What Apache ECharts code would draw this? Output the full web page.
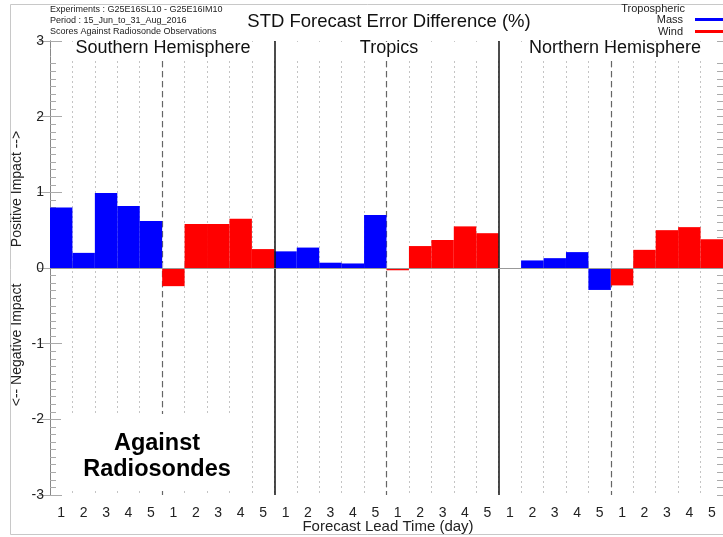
<!DOCTYPE html>
<html>
<head>
<meta charset="utf-8">
<script src="https://cdn.jsdelivr.net/npm/echarts@6/dist/echarts.min.js"></script>
<style>
html,body{margin:0;padding:0;background:#fff}
#chart{width:723px;height:537px}
</style>
</head>
<body>
<div id="chart"></div>
<script>
// Forecast lead time labels (days) and region panels
const regions = ['Southern Hemisphere', 'Tropics', 'Northern Hemisphere'];
const leadDays = ['1', '2', '3', '4', '5'];

// STD forecast error difference (%), tropospheric mass and wind
const massSH = [0.80, 0.20, 0.99, 0.82, 0.62];
const windSH = [-0.24, 0.58, 0.58, 0.65, 0.25];
const massTR = [0.22, 0.27, 0.07, 0.06, 0.70];
const windTR = [-0.03, 0.29, 0.37, 0.55, 0.46];
const massNH = [0.00, 0.10, 0.13, 0.21, -0.29];
const windNH = [-0.23, 0.24, 0.50, 0.54, 0.38];

const yMin = -3, yMax = 3;

// ---- layout ----
const W = 723, H = 537;
const GL = 50, GT = 41, GR = -5, GB = 42;
const plotW = W - GL - GR;
const panelW = plotW / 3;
const FONT = '"Liberation Sans", Arial, Helvetica, sans-serif';

// ---- build the 30-slot category axis and the two bar series ----
const categories = [];
const massData = [];
const windData = [];
const massByRegion = [massSH, massTR, massNH];
const windByRegion = [windSH, windTR, windNH];
regions.forEach((r, ri) => {
  leadDays.forEach((d, i) => {
    categories.push(ri + 'm' + d);
    massData.push(massByRegion[ri][i]);
    windData.push('-');
  });
  leadDays.forEach((d, i) => {
    categories.push(ri + 'w' + d);
    massData.push('-');
    windData.push(windByRegion[ri][i]);
  });
});
const nSlots = categories.length;

const clear = 'rgba(0,0,0,0)';

// panel titles, header text, annotations
const graphics = [
  { type: 'rect', z: 0, silent: true,
    shape: { x: 10.5, y: 4.5, width: 740, height: 530 },
    style: { fill: null, stroke: '#c8c8c8', lineWidth: 1 } },
  // blank band under the panel titles
  { type: 'rect', z: 1, silent: true,
    shape: { x: GL + 1, y: GT + 1, width: plotW - 2, height: 18 },
    style: { fill: '#fff' } },
  // blank box behind the annotation
  { type: 'rect', z: 1, silent: true,
    shape: { x: 61, y: 414, width: 190, height: 76 },
    style: { fill: '#fff' } },
  { type: 'text', z: 10, left: GL, top: 5,
    style: { text: 'Experiments : G25E16SL10 - G25E16IM10', font: '9px ' + FONT, fill: '#222' } },
  { type: 'text', z: 10, left: GL, top: 16,
    style: { text: 'Period : 15_Jun_to_31_Aug_2016', font: '9px ' + FONT, fill: '#222' } },
  { type: 'text', z: 10, left: GL, top: 27,
    style: { text: 'Scores Against Radiosonde Observations', font: '9px ' + FONT, fill: '#222' } },
  { type: 'text', z: 10, x: GL + plotW / 2, y: 22,
    style: { text: 'STD Forecast Error Difference (%)', font: '18.5px ' + FONT, fill: '#111',
             textAlign: 'center', textVerticalAlign: 'middle' } },
  { type: 'text', z: 10, x: 685, y: 9,
    style: { text: 'Tropospheric', font: '11px ' + FONT, fill: '#222',
             textAlign: 'right', textVerticalAlign: 'middle' } },
  { type: 'text', z: 10, x: 17, y: 189, rotation: Math.PI / 2,
    style: { text: 'Positive Impact -->', font: '14px ' + FONT, fill: '#222',
             textAlign: 'center', textVerticalAlign: 'middle' } },
  { type: 'text', z: 10, x: 17, y: 345, rotation: Math.PI / 2,
    style: { text: '<-- Negative Impact', font: '14px ' + FONT, fill: '#222',
             textAlign: 'center', textVerticalAlign: 'middle' } },
  { type: 'text', z: 10, x: 157, y: 444,
    style: { text: 'Against', font: 'bold 23.5px ' + FONT, fill: '#000',
             textAlign: 'center', textVerticalAlign: 'middle' } },
  { type: 'text', z: 10, x: 157, y: 470,
    style: { text: 'Radiosondes', font: 'bold 23.5px ' + FONT, fill: '#000',
             textAlign: 'center', textVerticalAlign: 'middle' } },
  { type: 'text', z: 10, x: 388, y: 527,
    style: { text: 'Forecast Lead Time (day)', font: '15px ' + FONT, fill: '#222',
             textAlign: 'center', textVerticalAlign: 'middle' } }
];
regions.forEach((r, ri) => {
  graphics.push({ type: 'text', z: 10, x: GL + panelW * (ri + 0.5), y: 48,
    style: { text: r, font: '18px ' + FONT, fill: '#111',
             textAlign: 'center', textVerticalAlign: 'middle' } });
});

// major ticks (with labels on the left) and fine 0.1 ticks, on both sides
function yAxisDef(side, step, tickLen, withLine, withLabels) {
  return {
    type: 'value', min: yMin, max: yMax, interval: step, position: side,
    axisLine: { show: withLine, lineStyle: { color: '#888', width: 1 } },
    axisTick: { show: true, inside: true, length: tickLen, lineStyle: { color: '#aaa' } },
    axisLabel: withLabels ? { show: true, fontSize: 14, color: '#222', margin: 6 } : { show: false },
    splitLine: { show: false }
  };
}

const chart = echarts.init(document.getElementById('chart'), null, { renderer: 'canvas' });
chart.setOption({
  animation: false,
  backgroundColor: '#fff',
  textStyle: { fontFamily: FONT },
  grid: { left: GL, right: GR, top: GT, bottom: GB, containLabel: false },
  legend: {
    data: ['Mass', 'Wind'], orient: 'vertical', right: GR + 3, top: 14,
    align: 'right', icon: 'rect', itemWidth: 30, itemHeight: 3, itemGap: 1,
    padding: 0, selectedMode: false,
    textStyle: { fontSize: 11, color: '#222', lineHeight: 11, padding: [0, 7, 0, 0] }
  },
  xAxis: [
    {
      type: 'category', data: categories, position: 'bottom',
      axisLine: { show: true, lineStyle: { color: '#aaa' } },
      axisTick: { show: true, inside: true, length: 5, interval: 0, lineStyle: { color: '#bbb' } },
      axisLabel: { interval: 0, fontSize: 14, color: '#222', margin: 11,
                   formatter: v => v.slice(-1) },
      splitLine: { show: true, interval: 0, lineStyle: { color: '#c4c4c4', type: [2, 3], width: 1 } },
      z: 0
    },
    {
      // dashed separators between mass and wind within each panel
      type: 'value', min: 0, max: nSlots, interval: 5, show: true,
      axisLine: { show: false }, axisTick: { show: false }, axisLabel: { show: false },
      splitLine: { show: true, lineStyle: {
        color: [clear, '#666', clear, '#666', clear, '#666', clear], type: [6, 4], width: 1.2 } },
      z: 0
    },
    {
      // solid panel separators
      type: 'value', min: 0, max: nSlots, interval: 10, show: true,
      axisLine: { show: false }, axisTick: { show: false }, axisLabel: { show: false },
      splitLine: { show: true, lineStyle: { color: [clear, '#111', '#111', clear], width: 1.5 } },
      z: 3
    }
  ],
  yAxis: [
    yAxisDef('left', 1, 12, true, true),
    yAxisDef('right', 1, 12, true, false),
    yAxisDef('left', 0.1, 6, false, false),
    yAxisDef('right', 0.1, 6, false, false)
  ],
  series: [
    {
      name: 'Mass', type: 'bar', stack: 'impact', data: massData,
      xAxisIndex: 0, yAxisIndex: 0, barCategoryGap: '0%', barWidth: '100%',
      itemStyle: { color: '#0000ff' }, z: 2,
      markLine: {
        silent: true, symbol: 'none', label: { show: false },
        lineStyle: { color: '#999', type: 'solid', width: 1 },
        data: [{ yAxis: 0 }]
      }
    },
    {
      name: 'Wind', type: 'bar', stack: 'impact', data: windData,
      xAxisIndex: 0, yAxisIndex: 0, barCategoryGap: '0%', barWidth: '100%',
      itemStyle: { color: '#ff0000' }, z: 2
    }
  ],
  graphic: graphics
});
</script>
</body>
</html>
